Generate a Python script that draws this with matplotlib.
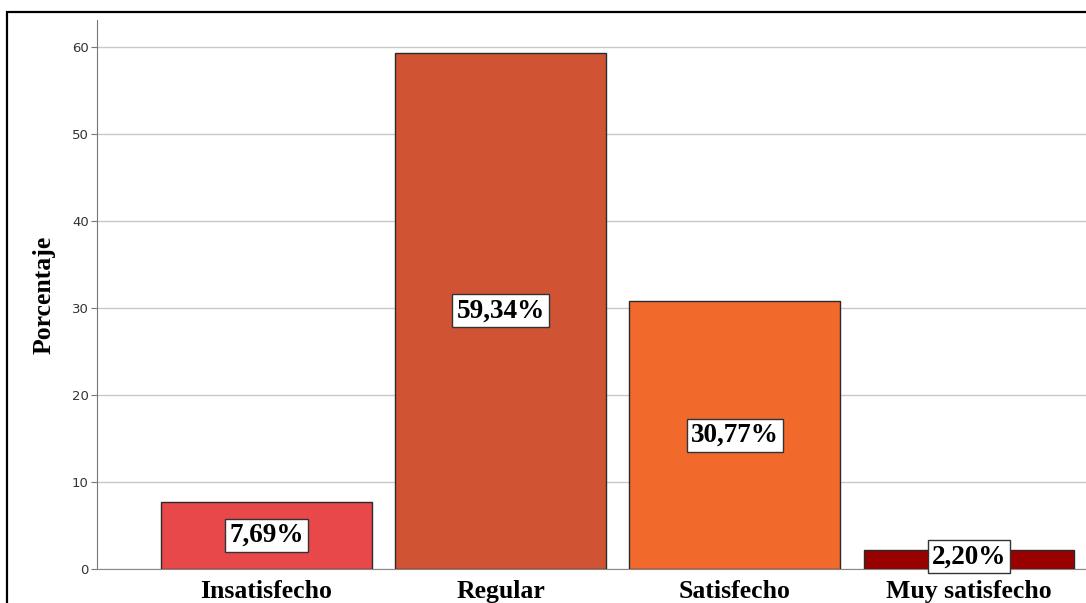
import matplotlib
matplotlib.use("Agg")
import matplotlib.pyplot as plt
from matplotlib.patches import Rectangle

categories = ["Insatisfecho", "Regular", "Satisfecho", "Muy satisfecho"]
percentages = [7.69, 59.34, 30.77, 2.20]
bar_colors = ["#E9484B", "#D05433", "#F2692C", "#990000"]
y_ticks = [0, 10, 20, 30, 40, 50, 60]

W, H = 1086, 603
fig = plt.figure(figsize=(W / 100, H / 100), dpi=100)

# Outer frame around the chart area
fig.patches.append(Rectangle((7 / W, -0.05), 1.2, 1 - 12 / H + 0.05,
                             transform=fig.transFigure, fill=False,
                             edgecolor="black", linewidth=1.6))

ax = fig.add_axes([97 / W, 1 - 569 / H, 1 - 97 / W, (569 - 20) / H])
x = list(range(len(categories)))
ax.bar(x, percentages, width=0.9, color=bar_colors, edgecolor="#2a2a2a",
       linewidth=1.0, zorder=3)

ax.set_xlim(-0.724, 3.5)
ax.set_ylim(0, 63.1)
ax.set_yticks(y_ticks)
ax.set_yticklabels([str(t) for t in y_ticks], fontsize=9.5, color="#333333",
                   family="DejaVu Sans")
ax.tick_params(axis="y", length=4, color="#777777", width=0.8, pad=2)
ax.tick_params(axis="x", length=0, pad=8)
ax.set_xticks(x)
ax.set_xticklabels(categories, family="Liberation Serif", fontweight="bold",
                   fontsize=18.5)
ax.yaxis.grid(True, color="#c8c8c8", linewidth=1.0, zorder=0)
ax.set_axisbelow(True)

for side in ("top", "right"):
    ax.spines[side].set_visible(False)
ax.spines["left"].set_color("#777777")
ax.spines["bottom"].set_color("#888888")

ax.set_ylabel("Porcentaje", family="Liberation Serif", fontweight="bold",
              fontsize=18.5, labelpad=12)

for xi, v in zip(x, percentages):
    ax.text(xi, v / 2 if v > 5 else 1.4, f"{v:.2f}%".replace(".", ","),
            ha="center", va="center", family="Liberation Serif",
            fontweight="bold", fontsize=19.5, zorder=5,
            bbox=dict(boxstyle="square,pad=0.15", facecolor="white",
                      edgecolor="#333333", linewidth=1.0))

fig.savefig("out.png", dpi=100)
